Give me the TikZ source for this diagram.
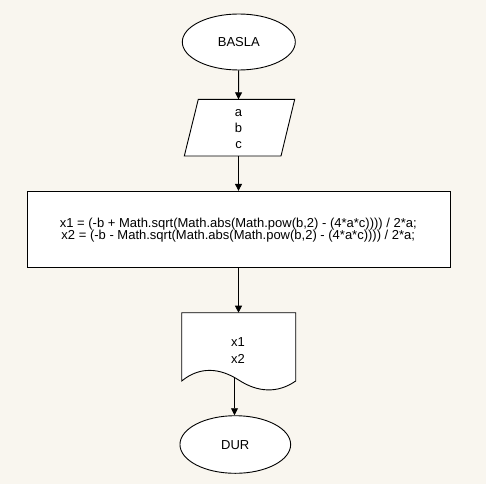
\documentclass[tikz,border=0pt]{standalone}
\usepackage{fontspec}
\setmainfont{Liberation Sans}
\usetikzlibrary{shapes.geometric,arrows.meta}
\definecolor{bg}{RGB}{249,246,239}
\begin{document}
\begin{tikzpicture}[x=1pt,y=-1pt,
  font=\fontsize{13}{13}\selectfont,
  box/.style={draw=black, line width=0.9pt, fill=white},
  flow/.style={draw=black, line width=0.9pt, -{Triangle[width=7pt,length=7pt]}},
  txt/.style={anchor=base, inner sep=0pt, text=black}]
\fill[bg] (0,0) rectangle (486,484);
\useasboundingbox (0,0) rectangle (486,484);
% start
\node[box, ellipse, minimum width=113pt, minimum height=56pt, inner sep=0pt] (start) at (238.8,42) {};
\node[txt] (startlbl) at (238.8,46.7) {BASLA};
% input parallelogram
\coordinate (p1) at (198.3,99.3);
\coordinate (p2) at (294.7,99.3);
\coordinate (p3) at (281,156);
\coordinate (p4) at (184.3,156);
\filldraw[box] (p1) -- (p2) -- (p3) -- (p4) -- cycle;
\coordinate (intop) at (238.5,99.3);
\coordinate (inbot) at (238.5,156);
\node[txt] (ina) at (238.5,116) {a};
\node[txt] (inb) at (238.5,132) {b};
\node[txt] (inc) at (238.5,148) {c};
% process
\node[box, rectangle, minimum width=423pt, minimum height=76pt, inner sep=0pt] (calc) at (238.8,229.3) {};
\node[txt] (l1) at (238.3,227.7) {x1 = (-b + Math.sqrt(Math.abs(Math.pow(b,2) - (4*a*c)))) / 2*a;};
\node[txt] (l2) at (238.3,239.5) {x2 = (-b - Math.sqrt(Math.abs(Math.pow(b,2) - (4*a*c)))) / 2*a;};
% document
\coordinate (doctop) at (238.5,312.7);
\coordinate (docbot) at (234.5,377.6);
\filldraw[box] (181.7,312.7) -- (295.7,312.7) -- (295.7,381)
  .. controls (277,394) and (257,392) .. (238.7,380)
  .. controls (220,368) and (200,366) .. (181.7,381) -- cycle;
\node[txt] (o1) at (238,346.7) {x1};
\node[txt] (o2) at (238,363.3) {x2};
% stop
\node[box, ellipse, minimum width=110.7pt, minimum height=57.6pt, inner sep=0pt] (stop) at (235.3,444.5) {};
\node[txt] (stoplbl) at (235.3,449.3) {DUR};
% connectors
\draw[flow] (start) -- (intop);
\draw[flow] (inbot) -- (inbot |- calc.north);
\draw[flow] (calc.south -| doctop) -- (doctop);
\draw[flow] (docbot) -- (docbot |- stop.north);
\end{tikzpicture}
\end{document}
